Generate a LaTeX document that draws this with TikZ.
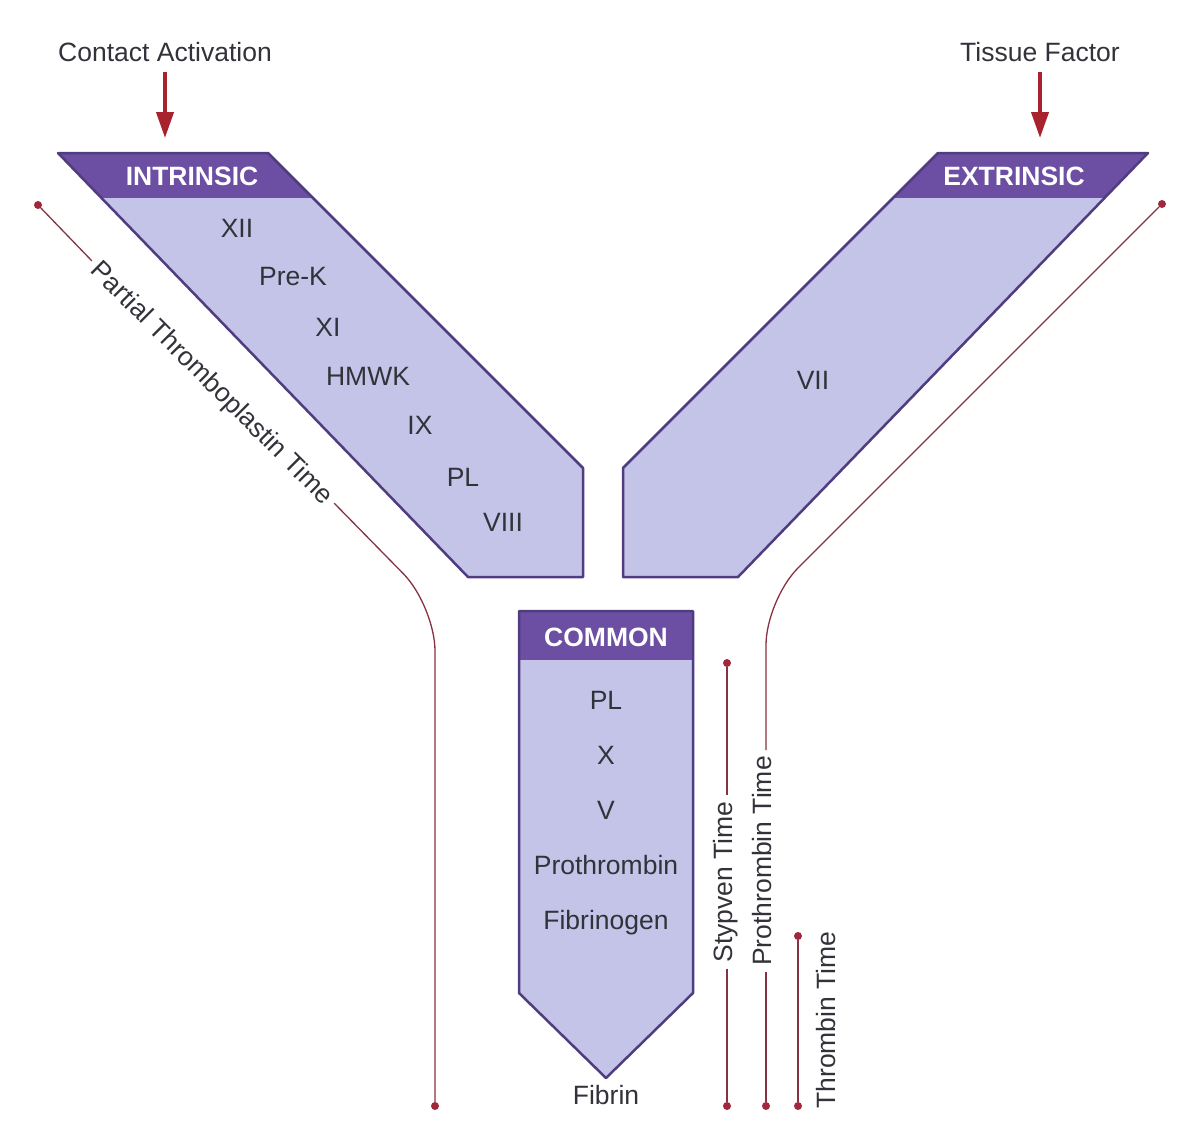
\documentclass[tikz,border=0pt]{standalone}
\usepackage{fontspec}
\setmainfont{Liberation Sans}
\usetikzlibrary{arrows.meta}
\definecolor{hdr}{RGB}{108,78,162}
\definecolor{pale}{RGB}{196,195,232}
\definecolor{rim}{RGB}{80,60,128}
\definecolor{wirered}{RGB}{135,50,65}
\definecolor{dotred}{RGB}{160,40,60}
\definecolor{arrred}{RGB}{168,35,45}
\definecolor{ink}{RGB}{50,50,58}
\tikzset{
  lbl/.style={font=\fontsize{26.5}{30}\selectfont, text=ink, text height=19pt, text depth=0pt, inner sep=0pt},
  hlbl/.style={lbl, font=\fontsize{26.5}{30}\selectfont\bfseries, text=white},
  tlbl/.style={lbl, inner sep=6pt},
  limb/.style={draw=rim, line width=2.5pt, line join=round, fill=pale},
  wire/.style={draw=wirered, line width=1.3pt},
  tdot/.style={circle, fill=dotred, inner sep=0pt, minimum size=8pt},
  feed/.style={draw=arrred, line width=4pt, -{Triangle[width=17pt,length=26pt]}},
}
\begin{document}
\begin{tikzpicture}[x=1pt,y=-1pt]
\useasboundingbox (0,0) rectangle (1184,1120);
% the three limbs of the Y
\path[limb, path picture={\fill[hdr] (0,140) rectangle (600,198);}]
  (58,153) -- (268,153) -- (583,468) -- (583,577) -- (468,577) -- cycle;
\path[limb, path picture={\fill[hdr] (600,140) rectangle (1184,198);}]
  (938,153) -- (1148,153) -- (738,577) -- (623,577) -- (623,468) -- cycle;
\path[limb, path picture={\fill[hdr] (500,600) rectangle (700,660);}]
  (519,611) -- (693,611) -- (693,993) -- (606,1078) -- (519,993) -- cycle;
\node[hlbl] (intr) at (192,176) {INTRINSIC};
\node[hlbl] (extr) at (1014,176) {EXTRINSIC};
\node[hlbl] (comm) at (606,637) {COMMON};
% factors
\foreach \nm/\txt/\px/\py in {f12/XII/237/228, prek/Pre-K/293/276, f11/XI/328/327,
  hmwk/HMWK/368/376, f9/IX/420/425, plA/PL/463/477, f8/VIII/503/522, f7/VII/813/380}
  \node[lbl] (\nm) at (\px,\py) {\txt};
\foreach \txt [count=\i] in {PL,X,V,Prothrombin,Fibrinogen}
  \node[lbl] (c\i) at (606,{700+55*(\i-1)}) {\txt};
\node[lbl] (fibrin) at (606,1095) {Fibrin};
% triggers
\node[lbl] (contact) at (165,52) {Contact Activation};
\node[lbl] (tissue) at (1040,52) {Tissue Factor};
\coordinate (intrIn) at (165,138);
\coordinate (extrIn) at (1040,138);
\draw[feed] ([yshift=-10pt]contact.south) -- (intrIn);
\draw[feed] ([yshift=-10pt]tissue.south) -- (extrIn);
% tests
\node[tdot] (pttA) at (38,205) {};
\node[tdot] (pttB) at (435,1106) {};
\node[tlbl, rotate=-45] (ptt) at (213,382) {Partial Thromboplastin Time};
\draw[wire] (pttA) -- (ptt.west);
\draw[wire, rounded corners=45pt] (ptt.east) -- (435,606) -- (pttB);
\node[tdot] (ptA) at (1162,204) {};
\node[tdot] (ptB) at (766,1106) {};
\node[tlbl, rotate=90] (pt) at (762,861) {Prothrombin Time};
\draw[wire, rounded corners=45pt] (ptA) -- (766,600) -- (ptB |- pt.east);
\draw[wire] (ptB |- pt.west) -- (ptB);
\node[tdot] (stA) at (727,663) {};
\node[tdot] (stB) at (727,1106) {};
\node[tlbl, rotate=90] (st) at (723,882) {Stypven Time};
\draw[wire] (stA) -- (stA |- st.east);
\draw[wire] (stA |- st.west) -- (stB);
\node[tdot] (thA) at (798,936) {};
\node[tdot] (thB) at (798,1106) {};
\draw[wire] (thA) -- (thB);
\node[lbl, rotate=90] (th) at (826,1020) {Thrombin Time};
\end{tikzpicture}
\end{document}
